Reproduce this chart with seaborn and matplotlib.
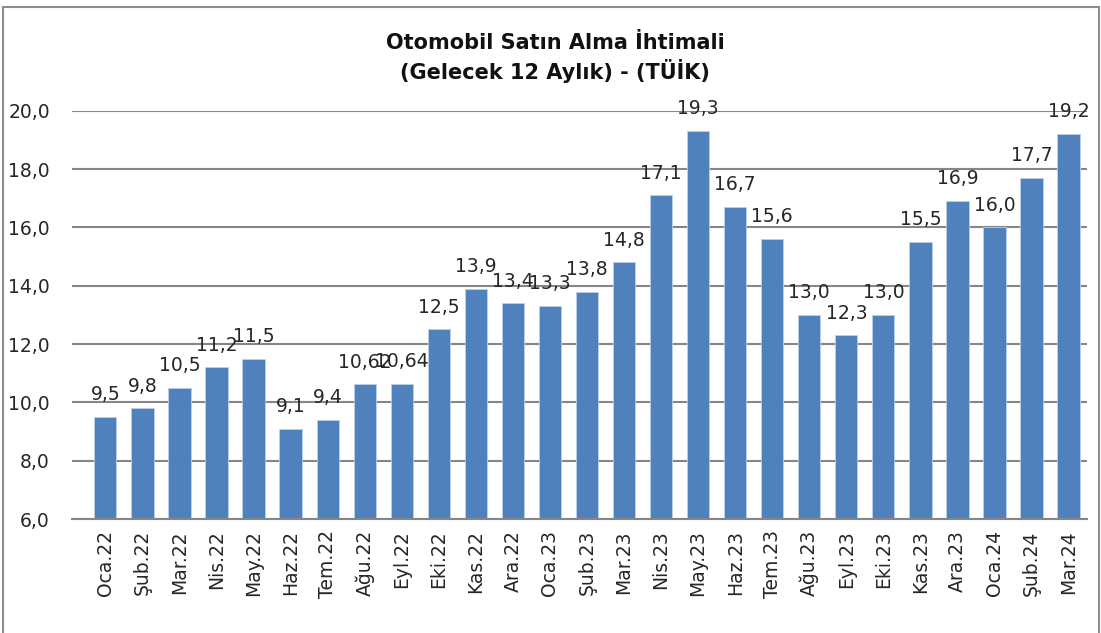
import matplotlib
matplotlib.use("Agg")
import matplotlib.pyplot as plt
import seaborn as sns
import pandas as pd
from matplotlib.patches import Rectangle

months = ["Oca.22", "Şub.22", "Mar.22", "Nis.22", "May.22", "Haz.22", "Tem.22", "Ağu.22", "Eyl.22",
          "Eki.22", "Kas.22", "Ara.22", "Oca.23", "Şub.23", "Mar.23", "Nis.23", "May.23", "Haz.23",
          "Tem.23", "Ağu.23", "Eyl.23", "Eki.23", "Kas.23", "Ara.23", "Oca.24", "Şub.24", "Mar.24"]
values = [9.5, 9.8, 10.5, 11.2, 11.5, 9.1, 9.4, 10.62, 10.64,
          12.5, 13.9, 13.4, 13.3, 13.8, 14.8, 17.1, 19.3, 16.7,
          15.6, 13.0, 12.3, 13.0, 15.5, 16.9, 16.0, 17.7, 19.2]
labels = ["9,5", "9,8", "10,5", "11,2", "11,5", "9,1", "9,4", "10,62", "10,64",
          "12,5", "13,9", "13,4", "13,3", "13,8", "14,8", "17,1", "19,3", "16,7",
          "15,6", "13,0", "12,3", "13,0", "15,5", "16,9", "16,0", "17,7", "19,2"]
yticks = [6, 8, 10, 12, 14, 16, 18, 20]
ytick_labels = ["6,0", "8,0", "10,0", "12,0", "14,0", "16,0", "18,0", "20,0"]
title = "Otomobil Satın Alma İhtimali\n(Gelecek 12 Aylık) - (TÜİK)"

sns.set_theme(style="white")
plt.rcParams['font.family'] = ['DejaVu Sans']

df = pd.DataFrame({"ay": months, "deger": values})

fig = plt.figure(figsize=(11.01, 6.33), dpi=100)
ax = fig.add_axes([0.0654, 0.180, 0.922, 0.645])

sns.barplot(data=df, x="ay", y="deger", color="#4F81BD", saturation=1, width=0.6, ax=ax,
            edgecolor="#BFD0E8", linewidth=0.6, zorder=2)

ax.set_ylim(6, 20)
ax.set_yticks(yticks)
ax.set_yticklabels(ytick_labels, fontsize=13.5, color="#262626")
ax.yaxis.grid(True, color="#868686", linewidth=1.5, zorder=0)
ax.set_axisbelow(True)
ax.tick_params(axis="x", rotation=90, labelsize=13.5, colors="#262626", length=0, pad=8)
ax.tick_params(axis="y", length=0, pad=16)
ax.set_xlabel("")
ax.set_ylabel("")
ax.set_xlim(-0.9, len(months) - 0.5)
for s in ["top", "right", "left"]:
    ax.spines[s].set_visible(False)
ax.spines["bottom"].set_color("#868686")
ax.spines["bottom"].set_linewidth(1.5)

for i, (v, lab) in enumerate(zip(values, labels)):
    ax.annotate(lab, xy=(i, v), xytext=(0, 16), textcoords="offset points",
                ha="center", va="center", fontsize=13.5, color="#262626", zorder=3,
                annotation_clip=False)

fig.text(0.504, 0.908, title, ha="center", va="center", fontsize=15, fontweight="bold",
         color="#111111", linespacing=1.3)

fig.patches.append(Rectangle((0.003, -0.01), 0.995, 1.0 - 0.011 + 0.01, transform=fig.transFigure,
                             fill=False, edgecolor="#8C8C8C", linewidth=1.5))

fig.savefig("out.png", dpi=100)
